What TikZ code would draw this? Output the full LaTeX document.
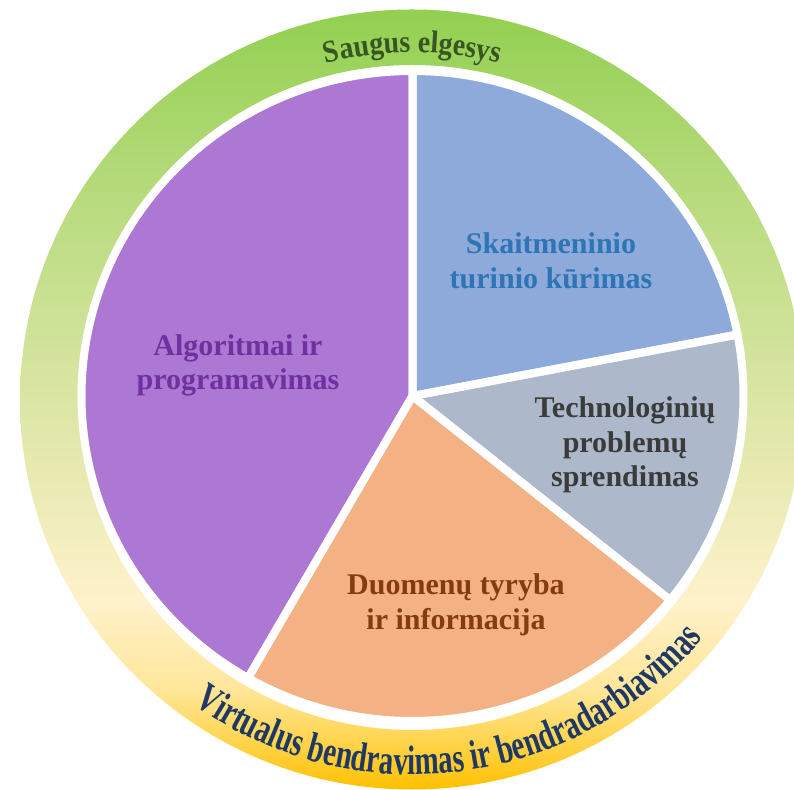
\documentclass[tikz,border=0pt]{standalone}
\usepackage{fontspec}
\setmainfont{Liberation Serif}
\usetikzlibrary{decorations.text}

\definecolor{cpurple}{HTML}{AD78D4}
\definecolor{cblue}{HTML}{8EAADB}
\definecolor{cgray}{HTML}{ADB9CA}
\definecolor{corange}{HTML}{F4B183}
\definecolor{tpurple}{HTML}{7030A0}
\definecolor{tblue}{HTML}{2E75B6}
\definecolor{tgray}{HTML}{3B3B3B}
\definecolor{tbrown}{HTML}{843C0C}
\definecolor{tgreen}{HTML}{375623}
\definecolor{tnavy}{HTML}{1F3864}

\definecolor{rc0}{HTML}{FFC000}
\definecolor{rc1}{HTML}{FFD347}
\definecolor{rc2}{HTML}{FFE699}
\definecolor{rc3}{HTML}{FFF2CC}
\definecolor{rc4}{HTML}{E9EAB3}
\definecolor{rc5}{HTML}{D2E39C}
\definecolor{rc6}{HTML}{B8DB7E}
\definecolor{rc7}{HTML}{92D050}

\pgfdeclareverticalshading{ringshade}{100bp}{color(0bp)=(rc0); color(25bp)=(rc0); color(27.85bp)=(rc1); color(31.4bp)=(rc2); color(37.1bp)=(rc3); color(44.8bp)=(rc4); color(53.2bp)=(rc5); color(62.8bp)=(rc6); color(75bp)=(rc7); color(100bp)=(rc7)}

\tikzset{
  lab/.style={font=\fontsize{30}{34.5}\selectfont\bfseries, align=center, inner sep=0pt},
  slicefill/.style={fill=#1},
  sliceedge/.style={draw=white, line width=8pt, line join=round},
}

\begin{document}
\begin{tikzpicture}[x=1pt,y=1pt]
\useasboundingbox (0,0) rectangle (794,789);
\clip (0,0) rectangle (794,789);

% outer ring
\shade[shading=ringshade, even odd rule]
  (412,389.5) ellipse[x radius=392, y radius=390]
  (412.5,391.5) ellipse[x radius=334.5, y radius=332.5];

% ring texts
\path[decorate, decoration={text effects along path, text={Saugus elgesys}, text align=center,
  text effects/.cd, text along path,
  characters={font=\fontsize{28}{30}\selectfont\bfseries, text=tgreen, yscale=1.12, inner sep=0pt}}]
  (412.5,391.5) ++(150:345) arc[start angle=150, end angle=30, radius=345];
\path[decorate, decoration={text effects along path, text={Virtualus bendravimas ir bendradarbiavimas}, text align=center,
  text effects/.cd, text along path,
  characters={font=\fontsize{29}{30}\selectfont\bfseries, text=tnavy, yscale=1.42, inner sep=0pt}}]
  (412.5,391.5) ++(-150:377) arc[start angle=-150, end angle=-15, radius=377];

% pie
\begin{scope}[shift={(412.5,393)}]
  \def\pieslice#1#2{(0,0) -- (#1:331 and 325) arc[start angle=#1, end angle=#2, x radius=331, y radius=325] -- cycle}
  \fill[slicefill=cblue]   \pieslice{10.9}{90};
  \fill[slicefill=cgray]   \pieslice{-38.9}{10.9};
  \fill[slicefill=corange] \pieslice{-119.8}{-38.9};
  \fill[slicefill=cpurple] \pieslice{90}{240.2};
  \draw[sliceedge] \pieslice{10.9}{90};
  \draw[sliceedge] \pieslice{-38.9}{10.9};
  \draw[sliceedge] \pieslice{-119.8}{-38.9};
  \draw[sliceedge] \pieslice{90}{240.2};
\end{scope}

% labels
\node[lab, text=tblue]   (skait) at (551,528)   {Skaitmeninio\\turinio kūrimas};
\node[lab, text=tpurple] (algo)  at (238,423.5) {Algoritmai ir\\programavimas};
\node[lab, text=tgray]   (tech)  at (625,344)   {Technologinių\\problemų\\sprendimas};
\node[lab, text=tbrown]  (duom)  at (456,184)   {Duomenų tyryba\\ir informacija};
\end{tikzpicture}
\end{document}
